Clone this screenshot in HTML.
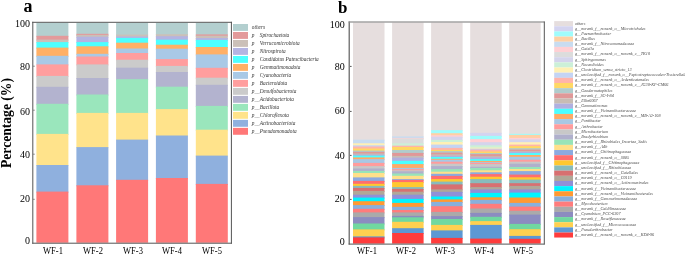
<!DOCTYPE html>
<html><head><meta charset="utf-8"><style>
html,body{margin:0;padding:0;background:#fff;}
body{width:685px;height:255px;position:relative;overflow:hidden;font-family:"Liberation Serif",serif;color:#000;}
svg{position:absolute;left:0;top:0;}
.t{position:absolute;white-space:nowrap;line-height:1;}
.yl{position:absolute;white-space:nowrap;line-height:1;font-size:10px;text-align:right;width:24px;color:#000;}
.xl{position:absolute;white-space:nowrap;line-height:1;font-size:9.7px;text-align:center;width:40px;color:#000;transform:scaleX(0.88);}
.lt{position:absolute;white-space:nowrap;line-height:1;font-style:italic;color:#333;}
.u{color:transparent;}
.u2{color:#777;}
#txt{position:absolute;left:0;top:0;width:685px;height:255px;filter:grayscale(1);}
</style></head><body>
<svg width="685" height="255" viewBox="0 0 685 255"><rect x="36.4" y="22.8" width="32" height="14" fill="#b3cfcf"/><rect x="36.4" y="35.8" width="32" height="4.8" fill="#e39a9b"/><rect x="36.4" y="39.6" width="32" height="3.5" fill="#cbc0b8"/><rect x="36.4" y="42.1" width="32" height="6.5" fill="#4dffff"/><rect x="36.4" y="47.6" width="32" height="9.2" fill="#ffb066"/><rect x="36.4" y="55.8" width="32" height="9.6" fill="#a9c9e6"/><rect x="36.4" y="64.4" width="32" height="12.5" fill="#ff9e9e"/><rect x="36.4" y="75.9" width="32" height="11.9" fill="#cbcbcb"/><rect x="36.4" y="86.8" width="32" height="18" fill="#b3b3cf"/><rect x="36.4" y="103.8" width="32" height="31.1" fill="#9ae6bc"/><rect x="36.4" y="133.9" width="32" height="32.1" fill="#ffe38b"/><rect x="36.4" y="165" width="32" height="27.6" fill="#8fb0de"/><rect x="36.4" y="191.6" width="32" height="51.1" fill="#ff7878"/><rect x="76.4" y="22.8" width="32" height="12" fill="#b3cfcf"/><rect x="76.4" y="33.8" width="32" height="2.1" fill="#e39a9b"/><rect x="76.4" y="34.9" width="32" height="2.8" fill="#cbc0b8"/><rect x="76.4" y="36.7" width="32" height="6.4" fill="#b4b4e2"/><rect x="76.4" y="42.1" width="32" height="5.2" fill="#4dffff"/><rect x="76.4" y="46.3" width="32" height="8.5" fill="#ffb066"/><rect x="76.4" y="53.8" width="32" height="3.7" fill="#a9c9e6"/><rect x="76.4" y="56.5" width="32" height="8.9" fill="#ff9e9e"/><rect x="76.4" y="64.4" width="32" height="14.6" fill="#cbcbcb"/><rect x="76.4" y="78" width="32" height="17.5" fill="#b3b3cf"/><rect x="76.4" y="94.5" width="32" height="19.4" fill="#9ae6bc"/><rect x="76.4" y="112.9" width="32" height="35.2" fill="#ffe38b"/><rect x="76.4" y="147.1" width="32" height="39.2" fill="#8fb0de"/><rect x="76.4" y="185.3" width="32" height="57.4" fill="#ff7878"/><rect x="116.1" y="22.8" width="32" height="12.8" fill="#b3cfcf"/><rect x="116.1" y="34.6" width="32" height="2.9" fill="#cbc0b8"/><rect x="116.1" y="36.5" width="32" height="2.4" fill="#b4b4e2"/><rect x="116.1" y="37.9" width="32" height="5.8" fill="#4dffff"/><rect x="116.1" y="42.7" width="32" height="6.8" fill="#ffb066"/><rect x="116.1" y="48.5" width="32" height="5.5" fill="#a9c9e6"/><rect x="116.1" y="53" width="32" height="7.7" fill="#ff9e9e"/><rect x="116.1" y="59.7" width="32" height="9" fill="#cbcbcb"/><rect x="116.1" y="67.7" width="32" height="12.5" fill="#b3b3cf"/><rect x="116.1" y="79.2" width="32" height="34.7" fill="#9ae6bc"/><rect x="116.1" y="112.9" width="32" height="27.7" fill="#ffe38b"/><rect x="116.1" y="139.6" width="32" height="41.2" fill="#8fb0de"/><rect x="116.1" y="179.8" width="32" height="62.9" fill="#ff7878"/><rect x="155.9" y="22.8" width="32" height="12.4" fill="#b3cfcf"/><rect x="155.9" y="34.2" width="32" height="3" fill="#cbc0b8"/><rect x="155.9" y="36.2" width="32" height="4.5" fill="#b4b4e2"/><rect x="155.9" y="39.7" width="32" height="6" fill="#4dffff"/><rect x="155.9" y="44.7" width="32" height="5" fill="#ffb066"/><rect x="155.9" y="48.7" width="32" height="11.4" fill="#a9c9e6"/><rect x="155.9" y="59.1" width="32" height="7.8" fill="#ff9e9e"/><rect x="155.9" y="65.9" width="32" height="7.1" fill="#cbcbcb"/><rect x="155.9" y="72" width="32" height="15.7" fill="#b3b3cf"/><rect x="155.9" y="86.7" width="32" height="23.4" fill="#9ae6bc"/><rect x="155.9" y="109.1" width="32" height="27.4" fill="#ffe38b"/><rect x="155.9" y="135.5" width="32" height="43.5" fill="#8fb0de"/><rect x="155.9" y="178" width="32" height="64.7" fill="#ff7878"/><rect x="195.8" y="22.8" width="32" height="12.6" fill="#b3cfcf"/><rect x="195.8" y="34.4" width="32" height="2.3" fill="#e39a9b"/><rect x="195.8" y="35.7" width="32" height="3.3" fill="#cbc0b8"/><rect x="195.8" y="38" width="32" height="2.9" fill="#b4b4e2"/><rect x="195.8" y="39.9" width="32" height="8.1" fill="#4dffff"/><rect x="195.8" y="47" width="32" height="8.4" fill="#ffb066"/><rect x="195.8" y="54.4" width="32" height="14.4" fill="#a9c9e6"/><rect x="195.8" y="67.8" width="32" height="10.9" fill="#ff9e9e"/><rect x="195.8" y="77.7" width="32" height="8.1" fill="#cbcbcb"/><rect x="195.8" y="84.8" width="32" height="22.1" fill="#b3b3cf"/><rect x="195.8" y="105.9" width="32" height="24.8" fill="#9ae6bc"/><rect x="195.8" y="129.7" width="32" height="26.9" fill="#ffe38b"/><rect x="195.8" y="155.6" width="32" height="29.3" fill="#8fb0de"/><rect x="195.8" y="183.9" width="32" height="58.8" fill="#ff7878"/><rect x="32.1" y="21.8" width="1.3" height="221.9" fill="#7a7a7a"/><rect x="32.2" y="21.8" width="199.7" height="1" fill="#555"/><rect x="230.9" y="21.8" width="1" height="221.9" fill="#555"/><rect x="32.2" y="242.7" width="199.7" height="1" fill="#555"/><rect x="33.4" y="65.7" width="1.1" height="1" fill="#555"/><rect x="33.4" y="109.7" width="1.1" height="1" fill="#555"/><rect x="33.4" y="153.7" width="1.1" height="1" fill="#555"/><rect x="33.4" y="198.8" width="1.1" height="1" fill="#555"/><rect x="233" y="24" width="15" height="6.9" fill="#b3cfcf"/><rect x="233" y="31.99" width="15" height="6.9" fill="#e39a9b"/><rect x="233" y="39.98" width="15" height="6.9" fill="#cbc0b8"/><rect x="233" y="47.97" width="15" height="6.9" fill="#b4b4e2"/><rect x="233" y="55.96" width="15" height="6.9" fill="#4dffff"/><rect x="233" y="63.95" width="15" height="6.9" fill="#ffb066"/><rect x="233" y="71.94" width="15" height="6.9" fill="#a9c9e6"/><rect x="233" y="79.93" width="15" height="6.9" fill="#ff9e9e"/><rect x="233" y="87.92" width="15" height="6.9" fill="#cbcbcb"/><rect x="233" y="95.91" width="15" height="6.9" fill="#b3b3cf"/><rect x="233" y="103.9" width="15" height="6.9" fill="#9ae6bc"/><rect x="233" y="111.89" width="15" height="6.9" fill="#ffe38b"/><rect x="233" y="119.88" width="15" height="6.9" fill="#8fb0de"/><rect x="233" y="127.87" width="15" height="6.9" fill="#ff7878"/><rect x="353" y="22.5" width="31.5" height="118.2" fill="#e6dede"/><rect x="353" y="139.7" width="31.5" height="4.6" fill="#c8dcf0"/><rect x="353" y="143.3" width="31.5" height="3" fill="#fff0b4"/><rect x="353" y="145.3" width="31.5" height="2.2" fill="#c4d4f4"/><rect x="353" y="146.5" width="31.5" height="3" fill="#ffb4aa"/><rect x="353" y="148.5" width="31.5" height="3.1" fill="#ffd864"/><rect x="353" y="150.6" width="31.5" height="2.2" fill="#b0cccc"/><rect x="353" y="151.8" width="31.5" height="2.7" fill="#e09898"/><rect x="353" y="153.5" width="31.5" height="2.2" fill="#c8bcb4"/><rect x="353" y="154.7" width="31.5" height="1.9" fill="#b0b0e0"/><rect x="353" y="155.6" width="31.5" height="2.8" fill="#4cffff"/><rect x="353" y="157.4" width="31.5" height="2.7" fill="#ffaa66"/><rect x="353" y="159.1" width="31.5" height="4.8" fill="#a8c8e4"/><rect x="353" y="162.9" width="31.5" height="4.2" fill="#ff9c9c"/><rect x="353" y="166.1" width="31.5" height="3.4" fill="#c8c8c8"/><rect x="353" y="168.5" width="31.5" height="3.4" fill="#b0b0cc"/><rect x="353" y="170.9" width="31.5" height="3.1" fill="#98e4b8"/><rect x="353" y="173" width="31.5" height="5.4" fill="#ffe08a"/><rect x="353" y="177.4" width="31.5" height="4.5" fill="#8caae0"/><rect x="353" y="180.9" width="31.5" height="3.9" fill="#ff6e6e"/><rect x="353" y="183.8" width="31.5" height="3.1" fill="#ffc830"/><rect x="353" y="185.9" width="31.5" height="3" fill="#88bcbc"/><rect x="353" y="187.9" width="31.5" height="4" fill="#d87070"/><rect x="353" y="190.9" width="31.5" height="4.8" fill="#b0a898"/><rect x="353" y="194.7" width="31.5" height="3.9" fill="#9090d8"/><rect x="353" y="197.6" width="31.5" height="4.6" fill="#00f4ff"/><rect x="353" y="201.2" width="31.5" height="4.9" fill="#ff9933"/><rect x="353" y="205.1" width="31.5" height="4.7" fill="#88b0dc"/><rect x="353" y="208.8" width="31.5" height="4.6" fill="#ff7c7c"/><rect x="353" y="212.4" width="31.5" height="5.7" fill="#aaaaaa"/><rect x="353" y="217.1" width="31.5" height="7.4" fill="#8c8cc0"/><rect x="353" y="223.5" width="31.5" height="6.9" fill="#70d8a0"/><rect x="353" y="229.4" width="31.5" height="8" fill="#ffd050"/><rect x="353" y="236.4" width="31.5" height="2" fill="#5c98d4"/><rect x="353" y="237.4" width="31.5" height="6.2" fill="#ff3c3c"/><rect x="392.1" y="22.5" width="31.5" height="114.9" fill="#e6dede"/><rect x="392.1" y="136.4" width="31.5" height="2.5" fill="#c8dcf0"/><rect x="392.1" y="137.9" width="31.5" height="1.6" fill="#ffd0d4"/><rect x="392.1" y="138.5" width="31.5" height="5.8" fill="#dcdcdc"/><rect x="392.1" y="143.3" width="31.5" height="3.4" fill="#ccf0d8"/><rect x="392.1" y="145.7" width="31.5" height="2.3" fill="#ffb4aa"/><rect x="392.1" y="147" width="31.5" height="4" fill="#ffd864"/><rect x="392.1" y="150" width="31.5" height="3.9" fill="#b0cccc"/><rect x="392.1" y="152.9" width="31.5" height="4" fill="#e09898"/><rect x="392.1" y="155.9" width="31.5" height="2.7" fill="#c8bcb4"/><rect x="392.1" y="157.6" width="31.5" height="4.2" fill="#b0b0e0"/><rect x="392.1" y="160.8" width="31.5" height="4.3" fill="#4cffff"/><rect x="392.1" y="164.1" width="31.5" height="4.8" fill="#ffaa66"/><rect x="392.1" y="167.9" width="31.5" height="2.2" fill="#a8c8e4"/><rect x="392.1" y="169.1" width="31.5" height="2.2" fill="#ff9c9c"/><rect x="392.1" y="170.3" width="31.5" height="2" fill="#c8c8c8"/><rect x="392.1" y="171.3" width="31.5" height="3.2" fill="#b0b0cc"/><rect x="392.1" y="173.5" width="31.5" height="3.3" fill="#98e4b8"/><rect x="392.1" y="175.8" width="31.5" height="4.3" fill="#ffe08a"/><rect x="392.1" y="179.1" width="31.5" height="1.8" fill="#8caae0"/><rect x="392.1" y="179.9" width="31.5" height="3.2" fill="#ff6e6e"/><rect x="392.1" y="182.1" width="31.5" height="6" fill="#ffc830"/><rect x="392.1" y="187.1" width="31.5" height="2.8" fill="#88bcbc"/><rect x="392.1" y="188.9" width="31.5" height="3.8" fill="#d87070"/><rect x="392.1" y="191.7" width="31.5" height="4" fill="#b0a898"/><rect x="392.1" y="194.7" width="31.5" height="5.2" fill="#9090d8"/><rect x="392.1" y="198.9" width="31.5" height="5" fill="#00f4ff"/><rect x="392.1" y="202.9" width="31.5" height="4.9" fill="#ff9933"/><rect x="392.1" y="206.8" width="31.5" height="4.2" fill="#88b0dc"/><rect x="392.1" y="210" width="31.5" height="3.4" fill="#ff7c7c"/><rect x="392.1" y="212.4" width="31.5" height="4.5" fill="#aaaaaa"/><rect x="392.1" y="215.9" width="31.5" height="2.4" fill="#8c8cc0"/><rect x="392.1" y="217.3" width="31.5" height="5.5" fill="#70d8a0"/><rect x="392.1" y="221.8" width="31.5" height="7.4" fill="#ffd050"/><rect x="392.1" y="228.2" width="31.5" height="5.8" fill="#5c98d4"/><rect x="392.1" y="233" width="31.5" height="10.6" fill="#ff3c3c"/><rect x="431.1" y="22.5" width="31.5" height="108.7" fill="#e6dede"/><rect x="431.1" y="130.2" width="31.5" height="4" fill="#a0fcfc"/><rect x="431.1" y="133.2" width="31.5" height="3" fill="#ffd0a4"/><rect x="431.1" y="135.2" width="31.5" height="2.5" fill="#ffd0d4"/><rect x="431.1" y="136.7" width="31.5" height="4.2" fill="#d4d4ec"/><rect x="431.1" y="139.9" width="31.5" height="3.1" fill="#ccf0d8"/><rect x="431.1" y="142" width="31.5" height="3.6" fill="#fff0b4"/><rect x="431.1" y="144.6" width="31.5" height="4.3" fill="#c4d4f4"/><rect x="431.1" y="147.9" width="31.5" height="3" fill="#ffb4aa"/><rect x="431.1" y="149.9" width="31.5" height="2.2" fill="#ffd864"/><rect x="431.1" y="151.1" width="31.5" height="2.5" fill="#b0cccc"/><rect x="431.1" y="152.6" width="31.5" height="2.7" fill="#e09898"/><rect x="431.1" y="154.3" width="31.5" height="2.5" fill="#c8bcb4"/><rect x="431.1" y="155.8" width="31.5" height="2.2" fill="#b0b0e0"/><rect x="431.1" y="157" width="31.5" height="2.8" fill="#4cffff"/><rect x="431.1" y="158.8" width="31.5" height="1.9" fill="#ffaa66"/><rect x="431.1" y="159.7" width="31.5" height="3" fill="#a8c8e4"/><rect x="431.1" y="161.7" width="31.5" height="3" fill="#ff9c9c"/><rect x="431.1" y="163.7" width="31.5" height="3.4" fill="#c8c8c8"/><rect x="431.1" y="166.1" width="31.5" height="4" fill="#b0b0cc"/><rect x="431.1" y="169.1" width="31.5" height="3.6" fill="#98e4b8"/><rect x="431.1" y="171.7" width="31.5" height="3.1" fill="#ffe08a"/><rect x="431.1" y="173.8" width="31.5" height="3.1" fill="#8caae0"/><rect x="431.1" y="175.9" width="31.5" height="4.2" fill="#ff6e6e"/><rect x="431.1" y="179.1" width="31.5" height="3.5" fill="#ffc830"/><rect x="431.1" y="181.6" width="31.5" height="3.8" fill="#88bcbc"/><rect x="431.1" y="184.4" width="31.5" height="6" fill="#d87070"/><rect x="431.1" y="189.4" width="31.5" height="3.4" fill="#b0a898"/><rect x="431.1" y="191.8" width="31.5" height="5.7" fill="#9090d8"/><rect x="431.1" y="196.5" width="31.5" height="3.9" fill="#00f4ff"/><rect x="431.1" y="199.4" width="31.5" height="3.5" fill="#ff9933"/><rect x="431.1" y="201.9" width="31.5" height="5.3" fill="#88b0dc"/><rect x="431.1" y="206.2" width="31.5" height="6.7" fill="#ff7c7c"/><rect x="431.1" y="211.9" width="31.5" height="5.2" fill="#aaaaaa"/><rect x="431.1" y="216.1" width="31.5" height="3.9" fill="#8c8cc0"/><rect x="431.1" y="219" width="31.5" height="6.9" fill="#70d8a0"/><rect x="431.1" y="224.9" width="31.5" height="6.5" fill="#ffd050"/><rect x="431.1" y="230.4" width="31.5" height="8.5" fill="#5c98d4"/><rect x="431.1" y="237.9" width="31.5" height="5.7" fill="#ff3c3c"/><rect x="470.2" y="22.5" width="31.5" height="111.3" fill="#e6dede"/><rect x="470.2" y="132.8" width="31.5" height="4.1" fill="#d4d4f0"/><rect x="470.2" y="135.9" width="31.5" height="4.2" fill="#a0fcfc"/><rect x="470.2" y="139.1" width="31.5" height="4.1" fill="#ffd0d4"/><rect x="470.2" y="142.2" width="31.5" height="4.1" fill="#d4d4ec"/><rect x="470.2" y="145.3" width="31.5" height="3.3" fill="#ccf0d8"/><rect x="470.2" y="147.6" width="31.5" height="2" fill="#fff0b4"/><rect x="470.2" y="148.6" width="31.5" height="2" fill="#c4d4f4"/><rect x="470.2" y="149.6" width="31.5" height="2.9" fill="#ffb4aa"/><rect x="470.2" y="151.5" width="31.5" height="2.6" fill="#ffd864"/><rect x="470.2" y="153.1" width="31.5" height="2" fill="#b0cccc"/><rect x="470.2" y="154.1" width="31.5" height="3.1" fill="#e09898"/><rect x="470.2" y="156.2" width="31.5" height="2.2" fill="#c8bcb4"/><rect x="470.2" y="157.4" width="31.5" height="2.7" fill="#b0b0e0"/><rect x="470.2" y="159.1" width="31.5" height="2.8" fill="#4cffff"/><rect x="470.2" y="160.9" width="31.5" height="2.2" fill="#ffaa66"/><rect x="470.2" y="162.1" width="31.5" height="1.8" fill="#a8c8e4"/><rect x="470.2" y="162.9" width="31.5" height="2.2" fill="#ff9c9c"/><rect x="470.2" y="164.1" width="31.5" height="3.7" fill="#c8c8c8"/><rect x="470.2" y="166.8" width="31.5" height="2.2" fill="#b0b0cc"/><rect x="470.2" y="168" width="31.5" height="3.3" fill="#98e4b8"/><rect x="470.2" y="170.3" width="31.5" height="3" fill="#ffe08a"/><rect x="470.2" y="172.3" width="31.5" height="2.8" fill="#8caae0"/><rect x="470.2" y="174.1" width="31.5" height="3.6" fill="#ff6e6e"/><rect x="470.2" y="176.7" width="31.5" height="3.4" fill="#ffc830"/><rect x="470.2" y="179.1" width="31.5" height="5.1" fill="#88bcbc"/><rect x="470.2" y="183.2" width="31.5" height="4.9" fill="#d87070"/><rect x="470.2" y="187.1" width="31.5" height="3.3" fill="#b0a898"/><rect x="470.2" y="189.4" width="31.5" height="4.5" fill="#9090d8"/><rect x="470.2" y="192.9" width="31.5" height="5.4" fill="#00f4ff"/><rect x="470.2" y="197.3" width="31.5" height="3.5" fill="#ff9933"/><rect x="470.2" y="199.8" width="31.5" height="5" fill="#88b0dc"/><rect x="470.2" y="203.8" width="31.5" height="5.7" fill="#ff7c7c"/><rect x="470.2" y="208.5" width="31.5" height="5.4" fill="#aaaaaa"/><rect x="470.2" y="212.9" width="31.5" height="4.9" fill="#8c8cc0"/><rect x="470.2" y="216.8" width="31.5" height="5.3" fill="#70d8a0"/><rect x="470.2" y="221.1" width="31.5" height="4.8" fill="#ffd050"/><rect x="470.2" y="224.9" width="31.5" height="14.7" fill="#5c98d4"/><rect x="470.2" y="238.6" width="31.5" height="5" fill="#ff3c3c"/><rect x="509.2" y="22.5" width="31.5" height="112.3" fill="#e6dede"/><rect x="509.2" y="133.8" width="31.5" height="2.1" fill="#a0fcfc"/><rect x="509.2" y="134.9" width="31.5" height="4" fill="#ffd0a4"/><rect x="509.2" y="137.9" width="31.5" height="2.5" fill="#ffd0d4"/><rect x="509.2" y="139.4" width="31.5" height="3.8" fill="#d4d4ec"/><rect x="509.2" y="142.2" width="31.5" height="3.4" fill="#fff0b4"/><rect x="509.2" y="144.6" width="31.5" height="2.5" fill="#ffb4aa"/><rect x="509.2" y="146.1" width="31.5" height="3.1" fill="#ffd864"/><rect x="509.2" y="148.2" width="31.5" height="2.4" fill="#b0cccc"/><rect x="509.2" y="149.6" width="31.5" height="2.5" fill="#e09898"/><rect x="509.2" y="151.1" width="31.5" height="1.8" fill="#c8bcb4"/><rect x="509.2" y="151.9" width="31.5" height="2.2" fill="#b0b0e0"/><rect x="509.2" y="153.1" width="31.5" height="2.9" fill="#4cffff"/><rect x="509.2" y="155" width="31.5" height="2.8" fill="#ffaa66"/><rect x="509.2" y="156.8" width="31.5" height="3.9" fill="#a8c8e4"/><rect x="509.2" y="159.7" width="31.5" height="3" fill="#ff9c9c"/><rect x="509.2" y="161.7" width="31.5" height="3" fill="#c8c8c8"/><rect x="509.2" y="163.7" width="31.5" height="4.3" fill="#b0b0cc"/><rect x="509.2" y="167" width="31.5" height="3" fill="#98e4b8"/><rect x="509.2" y="169" width="31.5" height="3.1" fill="#ffe08a"/><rect x="509.2" y="171.1" width="31.5" height="4.5" fill="#8caae0"/><rect x="509.2" y="174.6" width="31.5" height="3.7" fill="#ff6e6e"/><rect x="509.2" y="177.3" width="31.5" height="3.3" fill="#ffc830"/><rect x="509.2" y="179.6" width="31.5" height="4.6" fill="#88bcbc"/><rect x="509.2" y="183.2" width="31.5" height="3.7" fill="#d87070"/><rect x="509.2" y="185.9" width="31.5" height="4.5" fill="#b0a898"/><rect x="509.2" y="189.4" width="31.5" height="4.2" fill="#9090d8"/><rect x="509.2" y="192.6" width="31.5" height="5.9" fill="#00f4ff"/><rect x="509.2" y="197.5" width="31.5" height="6.4" fill="#ff9933"/><rect x="509.2" y="202.9" width="31.5" height="4.7" fill="#88b0dc"/><rect x="509.2" y="206.6" width="31.5" height="5.2" fill="#ff7c7c"/><rect x="509.2" y="210.8" width="31.5" height="4.8" fill="#aaaaaa"/><rect x="509.2" y="214.6" width="31.5" height="10.3" fill="#8c8cc0"/><rect x="509.2" y="223.9" width="31.5" height="6.3" fill="#70d8a0"/><rect x="509.2" y="229.2" width="31.5" height="7.7" fill="#ffd050"/><rect x="509.2" y="235.9" width="31.5" height="3.9" fill="#5c98d4"/><rect x="509.2" y="238.8" width="31.5" height="4.8" fill="#ff3c3c"/><rect x="348.5" y="21.5" width="1.5" height="223" fill="#7e7e7e"/><rect x="348.6" y="21.4" width="196" height="1.2" fill="#8e8e8e"/><rect x="543.8" y="21.5" width="1" height="223" fill="#555"/><rect x="348.6" y="243.6" width="196" height="1" fill="#555"/><rect x="350" y="65.9" width="1.6" height="1" fill="#555"/><rect x="350" y="110.9" width="1.6" height="1" fill="#555"/><rect x="350" y="154.9" width="1.6" height="1" fill="#555"/><rect x="350" y="198.9" width="1.6" height="1" fill="#555"/><rect x="554.2" y="21.1" width="18.8" height="5.2" fill="#e6dede"/><rect x="554.2" y="26.26" width="18.8" height="5.2" fill="#d4d4f0"/><rect x="554.2" y="31.41" width="18.8" height="5.2" fill="#a0fcfc"/><rect x="554.2" y="36.57" width="18.8" height="5.2" fill="#ffd0a4"/><rect x="554.2" y="41.73" width="18.8" height="5.2" fill="#c8dcf0"/><rect x="554.2" y="46.89" width="18.8" height="5.2" fill="#ffd0d4"/><rect x="554.2" y="52.04" width="18.8" height="5.2" fill="#dcdcdc"/><rect x="554.2" y="57.2" width="18.8" height="5.2" fill="#d4d4ec"/><rect x="554.2" y="62.36" width="18.8" height="5.2" fill="#ccf0d8"/><rect x="554.2" y="67.51" width="18.8" height="5.2" fill="#fff0b4"/><rect x="554.2" y="72.67" width="18.8" height="5.2" fill="#c4d4f4"/><rect x="554.2" y="77.83" width="18.8" height="5.2" fill="#ffb4aa"/><rect x="554.2" y="82.98" width="18.8" height="5.2" fill="#ffd864"/><rect x="554.2" y="88.14" width="18.8" height="5.2" fill="#b0cccc"/><rect x="554.2" y="93.3" width="18.8" height="5.2" fill="#e09898"/><rect x="554.2" y="98.46" width="18.8" height="5.2" fill="#c8bcb4"/><rect x="554.2" y="103.61" width="18.8" height="5.2" fill="#b0b0e0"/><rect x="554.2" y="108.77" width="18.8" height="5.2" fill="#4cffff"/><rect x="554.2" y="113.93" width="18.8" height="5.2" fill="#ffaa66"/><rect x="554.2" y="119.08" width="18.8" height="5.2" fill="#a8c8e4"/><rect x="554.2" y="124.24" width="18.8" height="5.2" fill="#ff9c9c"/><rect x="554.2" y="129.4" width="18.8" height="5.2" fill="#c8c8c8"/><rect x="554.2" y="134.55" width="18.8" height="5.2" fill="#b0b0cc"/><rect x="554.2" y="139.71" width="18.8" height="5.2" fill="#98e4b8"/><rect x="554.2" y="144.87" width="18.8" height="5.2" fill="#ffe08a"/><rect x="554.2" y="150.03" width="18.8" height="5.2" fill="#8caae0"/><rect x="554.2" y="155.18" width="18.8" height="5.2" fill="#ff6e6e"/><rect x="554.2" y="160.34" width="18.8" height="5.2" fill="#ffc830"/><rect x="554.2" y="165.5" width="18.8" height="5.2" fill="#88bcbc"/><rect x="554.2" y="170.65" width="18.8" height="5.2" fill="#d87070"/><rect x="554.2" y="175.81" width="18.8" height="5.2" fill="#b0a898"/><rect x="554.2" y="180.97" width="18.8" height="5.2" fill="#9090d8"/><rect x="554.2" y="186.12" width="18.8" height="5.2" fill="#00f4ff"/><rect x="554.2" y="191.28" width="18.8" height="5.2" fill="#ff9933"/><rect x="554.2" y="196.44" width="18.8" height="5.2" fill="#88b0dc"/><rect x="554.2" y="201.59" width="18.8" height="5.2" fill="#ff7c7c"/><rect x="554.2" y="206.75" width="18.8" height="5.2" fill="#aaaaaa"/><rect x="554.2" y="211.91" width="18.8" height="5.2" fill="#8c8cc0"/><rect x="554.2" y="217.07" width="18.8" height="5.2" fill="#70d8a0"/><rect x="554.2" y="222.22" width="18.8" height="5.2" fill="#ffd050"/><rect x="554.2" y="227.38" width="18.8" height="5.2" fill="#5c98d4"/><rect x="554.2" y="232.54" width="18.8" height="5" fill="#ff3c3c"/></svg>
<div id="txt">
<div class="t" style="left:23.5px;top:-3.4px;font-size:18px;font-weight:bold;">a</div>
<div class="t" style="left:6.6px;top:122.6px;font-size:13.6px;font-weight:bold;transform:translate(-50%,-50%) rotate(-90deg);">Percentage (%)</div>
<div class="yl" style="left:6px;top:19.1px;">100</div>
<div class="yl" style="left:6px;top:61.7px;">80</div>
<div class="yl" style="left:6px;top:106.7px;">60</div>
<div class="yl" style="left:6px;top:150.3px;">40</div>
<div class="yl" style="left:6px;top:193.6px;">20</div>
<div class="yl" style="left:6px;top:236px;">0</div>
<div class="xl" style="left:32.8px;top:245.6px;">WF-1</div>
<div class="xl" style="left:72.8px;top:245.6px;">WF-2</div>
<div class="xl" style="left:112.5px;top:245.6px;">WF-3</div>
<div class="xl" style="left:152.3px;top:245.6px;">WF-4</div>
<div class="xl" style="left:192.2px;top:245.6px;">WF-5</div>
<div class="lt" style="left:251.8px;top:25.3px;font-size:5.3px;">others</div>
<div class="lt" style="left:251.8px;top:33.29px;font-size:5.3px;">p<span class="u">__</span>Spirochaetota</div>
<div class="lt" style="left:251.8px;top:41.28px;font-size:5.3px;">p<span class="u">__</span>Verrucomicrobiota</div>
<div class="lt" style="left:251.8px;top:49.27px;font-size:5.3px;">p<span class="u">__</span>Nitrospirota</div>
<div class="lt" style="left:251.8px;top:57.26px;font-size:5.3px;">p<span class="u">__</span>Candidatus Patescibacteria</div>
<div class="lt" style="left:251.8px;top:65.25px;font-size:5.3px;">p<span class="u">__</span>Gemmatimonadota</div>
<div class="lt" style="left:251.8px;top:73.24px;font-size:5.3px;">p<span class="u">__</span>Cyanobacteria</div>
<div class="lt" style="left:251.8px;top:81.23px;font-size:5.3px;">p<span class="u">__</span>Bacteroidota</div>
<div class="lt" style="left:251.8px;top:89.22px;font-size:5.3px;">p<span class="u2">__</span>Desulfobacterota</div>
<div class="lt" style="left:251.8px;top:97.21px;font-size:5.3px;">p<span class="u2">__</span>Acidobacteriota</div>
<div class="lt" style="left:251.8px;top:105.2px;font-size:5.3px;">p<span class="u2">__</span>Bacillota</div>
<div class="lt" style="left:251.8px;top:113.19px;font-size:5.3px;">p<span class="u2">__</span>Chloroflexota</div>
<div class="lt" style="left:251.8px;top:121.18px;font-size:5.3px;">p<span class="u2">__</span>Actinobacteriota</div>
<div class="lt" style="left:251.8px;top:129.17px;font-size:5.3px;">p<span class="u2">__</span>Pseudomonadota</div>
<div class="t" style="left:338px;top:-0.6px;font-size:17px;font-weight:bold;">b</div>
<div class="yl" style="left:320.8px;top:19.8px;">100</div>
<div class="yl" style="left:320.8px;top:61.9px;">80</div>
<div class="yl" style="left:320.8px;top:105.8px;">60</div>
<div class="yl" style="left:320.8px;top:150.7px;">40</div>
<div class="yl" style="left:320.8px;top:193.7px;">20</div>
<div class="yl" style="left:320.8px;top:236.9px;">0</div>
<div class="xl" style="left:347.25px;top:246.2px;">WF-1</div>
<div class="xl" style="left:386.35px;top:246.2px;">WF-2</div>
<div class="xl" style="left:425.35px;top:246.2px;">WF-3</div>
<div class="xl" style="left:464.45px;top:246.2px;">WF-4</div>
<div class="xl" style="left:503.45px;top:246.2px;">WF-5</div>
<div class="lt" style="left:574.9px;top:21.5px;font-size:4.2px;color:#4a4a4a;">others</div>
<div class="lt" style="left:574.9px;top:26.66px;font-size:4.2px;color:#4a4a4a;">g__norank_f__norank_o__Microtrichales</div>
<div class="lt" style="left:574.9px;top:31.81px;font-size:4.2px;color:#4a4a4a;">g__Paenarthrobacter</div>
<div class="lt" style="left:574.9px;top:36.97px;font-size:4.2px;color:#4a4a4a;">g__Bacillus</div>
<div class="lt" style="left:574.9px;top:42.13px;font-size:4.2px;color:#4a4a4a;">g__norank_f__Nitrosomonadaceae</div>
<div class="lt" style="left:574.9px;top:47.29px;font-size:4.2px;color:#4a4a4a;">g__Gaiella</div>
<div class="lt" style="left:574.9px;top:52.44px;font-size:4.2px;color:#4a4a4a;">g__norank_f__norank_o__norank_c__TK10</div>
<div class="lt" style="left:574.9px;top:57.6px;font-size:4.2px;color:#4a4a4a;">g__Sphingomonas</div>
<div class="lt" style="left:574.9px;top:62.76px;font-size:4.2px;color:#4a4a4a;">g__Nocardioides</div>
<div class="lt" style="left:574.9px;top:67.91px;font-size:4.2px;color:#4a4a4a;">g__Clostridium_sensu_stricto_13</div>
<div class="lt" style="left:574.9px;top:73.07px;font-size:4.2px;color:#4a4a4a;">g__unclassified_f__norank_o__Peptostreptococcales-Tissierellales</div>
<div class="lt" style="left:574.9px;top:78.23px;font-size:4.2px;color:#4a4a4a;">g__norank_f__norank_o__Ardenticatenales</div>
<div class="lt" style="left:574.9px;top:83.38px;font-size:4.2px;color:#4a4a4a;">g__norank_f__norank_o__norank_c__JG30-KF-CM66</div>
<div class="lt" style="left:574.9px;top:88.54px;font-size:4.2px;color:#4a4a4a;">g__Geodermatophilus</div>
<div class="lt" style="left:574.9px;top:93.7px;font-size:4.2px;color:#4a4a4a;">g__norank_f__SC-I-84</div>
<div class="lt" style="left:574.9px;top:98.86px;font-size:4.2px;color:#4a4a4a;">g__Ellin6067</div>
<div class="lt" style="left:574.9px;top:104.01px;font-size:4.2px;color:#4a4a4a;">g__Gemmatimonas</div>
<div class="lt" style="left:574.9px;top:109.17px;font-size:4.2px;color:#4a4a4a;">g__norank_f__Vicinamibacteraceae</div>
<div class="lt" style="left:574.9px;top:114.33px;font-size:4.2px;color:#4a4a4a;">g__norank_f__norank_o__norank_c__MB-A2-108</div>
<div class="lt" style="left:574.9px;top:119.48px;font-size:4.2px;color:#4a4a4a;">g__Pontibacter</div>
<div class="lt" style="left:574.9px;top:124.64px;font-size:4.2px;color:#4a4a4a;">g__Arthrobacter</div>
<div class="lt" style="left:574.9px;top:129.8px;font-size:4.2px;color:#4a4a4a;">g__Microbacterium</div>
<div class="lt" style="left:574.9px;top:134.95px;font-size:4.2px;color:#4a4a4a;">g__Bradyrhizobium</div>
<div class="lt" style="left:574.9px;top:140.11px;font-size:4.2px;color:#4a4a4a;">g__norank_f__Rhizobiales_Incertae_Sedis</div>
<div class="lt" style="left:574.9px;top:145.27px;font-size:4.2px;color:#4a4a4a;">g__norank_f__A4b</div>
<div class="lt" style="left:574.9px;top:150.43px;font-size:4.2px;color:#4a4a4a;">g__norank_f__Chitinophagaceae</div>
<div class="lt" style="left:574.9px;top:155.58px;font-size:4.2px;color:#4a4a4a;">g__norank_f__norank_o__S085</div>
<div class="lt" style="left:574.9px;top:160.74px;font-size:4.2px;color:#4a4a4a;">g__unclassified_f__Chitinophagaceae</div>
<div class="lt" style="left:574.9px;top:165.9px;font-size:4.2px;color:#4a4a4a;">g__unclassified_f__Rhizobiaceae</div>
<div class="lt" style="left:574.9px;top:171.05px;font-size:4.2px;color:#4a4a4a;">g__norank_f__norank_o__Gaiellales</div>
<div class="lt" style="left:574.9px;top:176.21px;font-size:4.2px;color:#4a4a4a;">g__norank_f__norank_o__C0119</div>
<div class="lt" style="left:574.9px;top:181.37px;font-size:4.2px;color:#4a4a4a;">g__norank_f__norank_o__Actinomarinales</div>
<div class="lt" style="left:574.9px;top:186.52px;font-size:4.2px;color:#4a4a4a;">g__norank_f__Vicinamibacteraceae</div>
<div class="lt" style="left:574.9px;top:191.68px;font-size:4.2px;color:#4a4a4a;">g__norank_f__norank_o__Vicinamibacterales</div>
<div class="lt" style="left:574.9px;top:196.84px;font-size:4.2px;color:#4a4a4a;">g__norank_f__Gemmatimonadaceae</div>
<div class="lt" style="left:574.9px;top:202px;font-size:4.2px;color:#4a4a4a;">g__Mycobacterium</div>
<div class="lt" style="left:574.9px;top:207.15px;font-size:4.2px;color:#4a4a4a;">g__norank_f__Caldilineaceae</div>
<div class="lt" style="left:574.9px;top:212.31px;font-size:4.2px;color:#4a4a4a;">g__Cyanobium_PCC-6307</div>
<div class="lt" style="left:574.9px;top:217.47px;font-size:4.2px;color:#4a4a4a;">g__norank_f__Roseiflexaceae</div>
<div class="lt" style="left:574.9px;top:222.62px;font-size:4.2px;color:#4a4a4a;">g__unclassified_f__Micrococcaceae</div>
<div class="lt" style="left:574.9px;top:227.78px;font-size:4.2px;color:#4a4a4a;">g__Pseudarthrobacter</div>
<div class="lt" style="left:574.9px;top:232.94px;font-size:4.2px;color:#4a4a4a;">g__norank_f__norank_o__norank_c__KD4-96</div>
</div>
</body></html>
